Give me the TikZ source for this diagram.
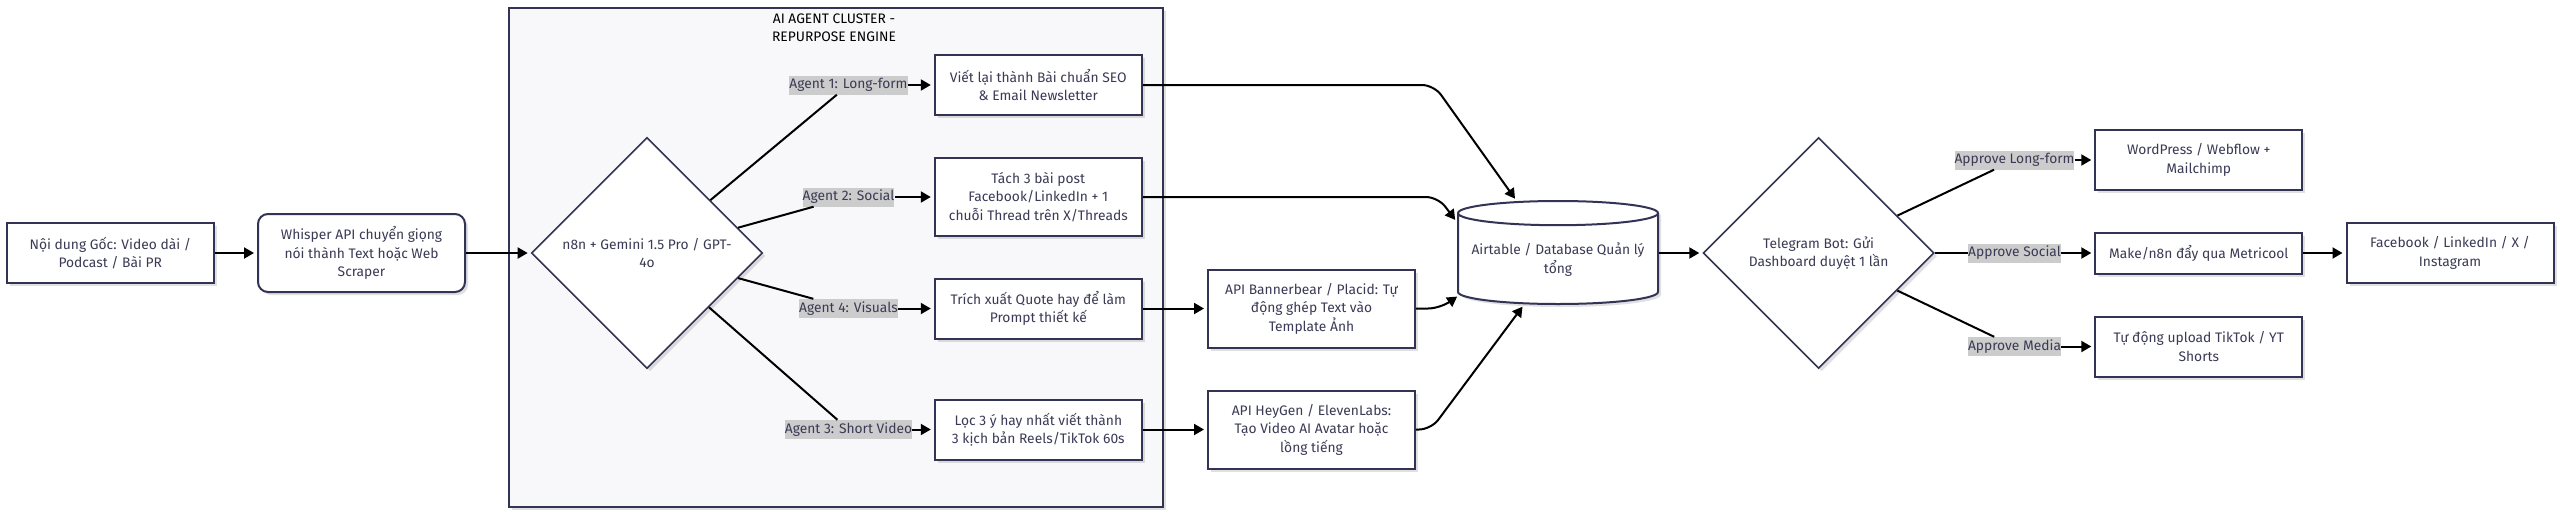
\documentclass[tikz,border=0pt]{standalone}
\usepackage{fontspec}
\setmainfont{Fira Sans}
\usetikzlibrary{arrows.meta,shapes.geometric,shadows}

\definecolor{edgeink}{HTML}{333355}
\definecolor{textink}{HTML}{3A3A55}
\definecolor{labelbg}{HTML}{CCCCCC}
\definecolor{clusterbg}{HTML}{F8F8FB}

\tikzset{
    softshadow/.style={drop shadow={shadow xshift=3pt,shadow yshift=-3pt,fill=black,opacity=0.12}},
    procbox/.style={draw=edgeink,line width=2pt,fill=white,text=textink,softshadow,
        minimum width=207pt,align=center,inner sep=0pt},
    decision/.style={diamond,draw=edgeink,line width=1.6pt,fill=white,text=textink,softshadow,
        minimum width=231pt,minimum height=231pt,aspect=1,align=center,inner sep=0pt},
    edgelabel/.style={fill=labelbg,text=textink,inner sep=0pt,minimum height=19pt},
    conn/.style={line width=2pt,black},
    connarrow/.style={conn,-{Triangle[length=10pt,width=11pt]},shorten >=3pt}
}

\begin{document}
\begin{tikzpicture}[x=1pt,y=-1pt,font=\fontsize{13.8pt}{18.4pt}\selectfont]
    \useasboundingbox (0,0) rectangle (2560,515);

    \node[draw=edgeink,line width=2pt,fill=clusterbg,softshadow,minimum width=654.5pt,minimum height=499pt] (cluster) at (835.75,257.5) {};
    \node[text=black,align=center] (clustertitle) at (834,27.5) {AI AGENT CLUSTER -\\REPURPOSE ENGINE};

    \node[procbox,minimum height=60pt] (source) at (110.3,253) {Nội dung Gốc: Video dài /\\Podcast / Bài PR};
    \node[procbox,minimum height=78pt,rounded corners=10pt] (whisper) at (361.5,253) {Whisper API chuyển giọng\\nói thành Text hoặc Web\\Scraper};
    \node[decision] (engine) at (647,253) {n8n + Gemini 1.5 Pro / GPT-\\4o};

    \node[procbox,minimum height=60pt] (longform) at (1038.3,85) {Viết lại thành Bài chuẩn SEO\\\& Email Newsletter};
    \node[procbox,minimum height=78pt] (social) at (1038.3,197) {Tách 3 bài post\\Facebook/LinkedIn + 1\\chuỗi Thread trên X/Threads};
    \node[procbox,minimum height=60pt] (visuals) at (1038.3,308.5) {Trích xuất Quote hay để làm\\Prompt thiết kế};
    \node[procbox,minimum height=60pt] (shortvideo) at (1038.3,429.5) {Lọc 3 ý hay nhất viết thành\\3 kịch bản Reels/TikTok 60s};

    \node[procbox,minimum height=78pt] (banner) at (1311.5,308.5) {API Bannerbear / Placid: Tự\\động ghép Text vào\\Template Ảnh};
    \node[procbox,minimum height=78pt] (heygen) at (1311.5,429.5) {API HeyGen / ElevenLabs:\\Tạo Video AI Avatar hoặc\\lồng tiếng};

    \node[cylinder,shape border rotate=90,aspect=0.14,draw=edgeink,line width=2pt,fill=white,softshadow,
        minimum width=200pt,minimum height=103pt,inner sep=0pt,anchor=shape center] (database) at (1558,252.5) {\phantom{Airtable / Database Quản lý}};
    \node[text=textink,align=center,inner sep=0pt] (databasetext) at (1558,259.5) {Airtable / Database Quản lý\\tổng};
    \node[decision] (telegram) at (1818.6,253) {Telegram Bot: Gửi\\Dashboard duyệt 1 lần};

    \node[procbox,minimum height=60pt] (wordpress) at (2198.8,160) {WordPress / Webflow +\\Mailchimp};
    \node[procbox,minimum height=41pt] (metricool) at (2198.8,253) {Make/n8n đẩy qua Metricool};
    \node[procbox,minimum height=60pt] (upload) at (2198.8,346.5) {Tự động upload TikTok / YT\\Shorts};
    \node[procbox,minimum height=60pt] (channels) at (2450,253) {Facebook / LinkedIn / X /\\Instagram};

    \node[edgelabel] (agentone) at (848.5,85) {Agent 1: Long-form};
    \node[edgelabel] (agenttwo) at (848.5,197) {Agent 2: Social};
    \node[edgelabel] (agentfour) at (848.5,308.5) {Agent 4: Visuals};
    \node[edgelabel] (agentthree) at (848.5,429.5) {Agent 3: Short Video};
    \node[edgelabel] (approvelong) at (2014.5,160) {Approve Long-form};
    \node[edgelabel] (approvesocial) at (2014.5,253) {Approve Social};
    \node[edgelabel] (approvemedia) at (2014.5,346.5) {Approve Media};

    \coordinate (bendone) at (1434,85);
    \coordinate (bendtwo) at (1438,197);
    \coordinate (bendfour) at (1440,308.5);
    \coordinate (bendthree) at (1431,429.5);

    \draw[connarrow] (source) -- (whisper);
    \draw[connarrow] (whisper) -- (engine);

    \draw[conn] (engine) -- (agentone);
    \draw[conn] (engine) -- (agenttwo);
    \draw[conn] (engine) -- (agentfour);
    \draw[conn] (engine) -- (agentthree);
    \draw[connarrow] (agentone) -- (longform);
    \draw[connarrow] (agenttwo) -- (social);
    \draw[connarrow] (agentfour) -- (visuals);
    \draw[connarrow] (agentthree) -- (shortvideo);

    \draw[connarrow] (visuals) -- (banner);
    \draw[connarrow] (shortvideo) -- (heygen);

    \draw[connarrow,rounded corners=12pt] (longform) -- (bendone) -- (database);
    \draw[connarrow,rounded corners=12pt] (social) -- (bendtwo) -- (database.160);
    \draw[connarrow,rounded corners=12pt] (banner) -- (bendfour) -- (database.200);
    \draw[connarrow,rounded corners=12pt] (heygen) -- (bendthree) -- (database);

    \draw[connarrow] (database.east |- telegram.west) -- (telegram.west);

    \draw[conn] (telegram) -- (approvelong);
    \draw[conn] (telegram) -- (approvesocial);
    \draw[conn] (telegram) -- (approvemedia);
    \draw[connarrow] (approvelong) -- (wordpress);
    \draw[connarrow] (approvesocial) -- (metricool);
    \draw[connarrow] (approvemedia) -- (upload);
    \draw[connarrow] (metricool) -- (channels);
\end{tikzpicture}
\end{document}
